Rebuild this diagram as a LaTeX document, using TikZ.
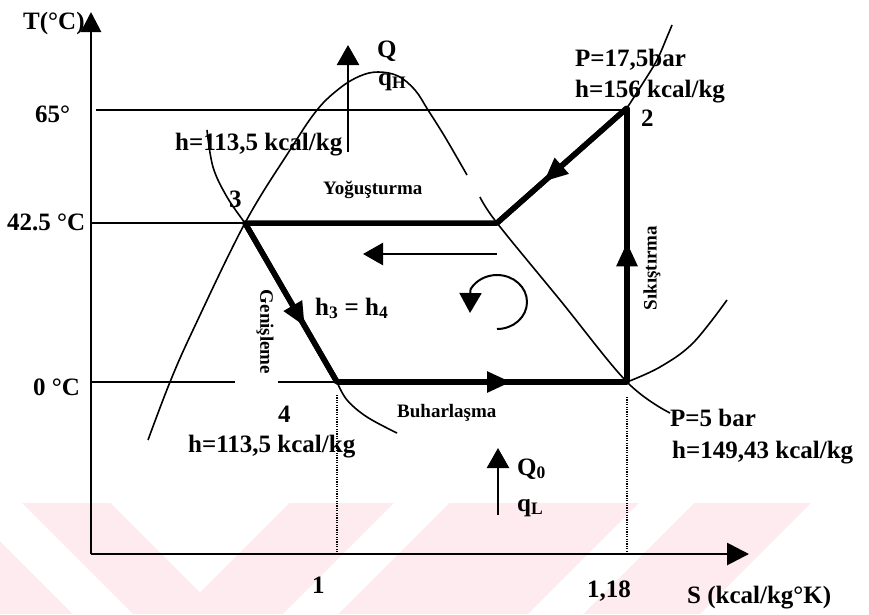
\documentclass[tikz,border=0pt]{standalone}
\usepackage{fontspec}
\setmainfont{Liberation Serif}
\usetikzlibrary{arrows.meta,decorations.markings}
\definecolor{wmpink}{RGB}{253,235,239}
\tikzset{
  thinline/.style={line width=1.6pt},
  cycleline/.style={line width=5.5pt, line join=round},
  axisline/.style={line width=2.8pt},
  arrowline/.style={line width=2.6pt},
  lbl/.style={font=\fontsize{25}{28}\selectfont\bfseries, inner sep=0pt},
  smalllbl/.style={font=\fontsize{19}{22}\selectfont\bfseries, inner sep=0pt},
  midarrow/.style={postaction={decorate},decoration={markings,mark=at position #1 with {\arrow{Triangle[length=24pt,width=20pt]}}}},
  tipQQ/.style={-{Triangle[length=20pt,width=22pt]}},
  dotline/.style={line width=1.2pt, dash pattern=on 1.2pt off 1.2pt},
}
\begin{document}
\begin{tikzpicture}[x=1pt,y=-1pt]
\useasboundingbox (0,0) rectangle (869,614);
% watermark band
\fill[wmpink] (0,503) -- (811,503) -- (700,614) -- (0,614) -- cycle;
\fill[white] (-38,503) -- (22,503) -- (133,614) -- (73,614) -- cycle;
\fill[white] (111,503) -- (289,503) -- (200,592) -- cycle;
\fill[white] (394,503) -- (449,503) -- (338,614) -- (283,614) -- cycle;
\fill[white] (639,503) -- (694,503) -- (583,614) -- (528,614) -- cycle;

% key points
\coordinate (p1) at (627,382);
\coordinate (p2) at (627,108);
\coordinate (p3) at (245,223);
\coordinate (p4) at (337,382);
\coordinate (pa) at (497,223);
\coordinate (orig) at (91,554);
\coordinate (ytip) at (91,12);
\coordinate (xtip) at (749,554);

% reference lines
\coordinate (l65) at (96,110);
\coordinate (l42) at (91,223);
\coordinate (l0a) at (92,382);
\coordinate (l0b) at (235,382);
\coordinate (l0c) at (278,382);
\draw[thinline] (l65) -- (l65 -| p2);
\draw[thinline] (l42) -- (p3);
\draw[thinline] (l0a) -- (l0b);
\draw[thinline] (l0c) -- (p4);
\coordinate (d1a) at (337,395);
\coordinate (d2a) at (627,397);
\draw[dotline] (d1a) -- (d1a |- orig);
\draw[dotline] (d2a) -- (d2a |- orig);

% saturation dome
\draw[thinline] plot[smooth, tension=0.6] coordinates {(148,440) (170,382) (193,330) (245,223) (290,150) (317,110) (340,88) (360,76) (378,72) (398,76) (415,90) (428,110) (445,137) (467,175)};
\draw[thinline] plot[smooth, tension=0.6] coordinates {(480,197) (497,223) (560,300) (627,382) (670,413)};

% other curves
\draw[thinline] plot[smooth, tension=0.6] coordinates {(207,130) (213,167) (227,197) (245,223)};
\draw[thinline] plot[smooth, tension=0.6] coordinates {(627,108) (643,83) (657,60) (667,37) (672,25)};
\draw[thinline] plot[smooth, tension=0.6] coordinates {(337,382) (347,400) (367,417) (397,433)};
\draw[thinline] plot[smooth, tension=0.6] coordinates {(627,382) (660,367) (693,343) (727,300)};

% cycle
\draw[cycleline] (p2) -- (pa) -- (p3) -- (p4) -- (p1) -- cycle;
\draw[cycleline, midarrow=0.64] (p2) -- (pa);
\draw[cycleline, midarrow=0.65] (p3) -- (p4);
\draw[cycleline, midarrow=0.6] (p4) -- (p1);
\draw[cycleline, midarrow=0.51] (p1) -- (p2);

% axes
\draw[axisline, -{Triangle[length=20pt,width=20pt]}] (orig) -- (ytip);
\draw[axisline, -{Triangle[length=22pt,width=22pt]}] (orig) -- (xtip);

% heat arrows
\coordinate (qh0) at (348,152);
\coordinate (qh1) at (348,45);
\coordinate (ql0) at (498,515);
\coordinate (ql1) at (498,448);
\draw[arrowline, tipQQ] (qh0) -- (qh1);
\draw[arrowline, tipQQ] (ql0) -- (ql1);

% direction arrows
\coordinate (la1) at (497,254);
\coordinate (la2) at (363,254);
\draw[arrowline, tipQQ] (la1) -- (la2);
\coordinate (rot0) at (497,329);
\coordinate (rottip) at (470,313);
\draw[line width=2pt, -{Triangle[length=20pt,width=22pt]}] (rot0) arc[start angle=90, end angle=-152, x radius=30, y radius=27] -- (rottip);

% labels
\node[lbl, anchor=base west] (tT) at (23,29) {T(°C)};
\node[lbl, anchor=base west] (t65) at (35,122) {65°};
\node[lbl, anchor=base west] (t425) at (7,230) {42.5 °C};
\node[lbl, anchor=base west] (t0) at (33,395) {0 °C};
\node[lbl, anchor=base west] (tP2) at (575,66) {P=17,5bar};
\node[lbl, anchor=base west] (th2) at (575,97) {h=156 kcal/kg};
\node[lbl, anchor=base west] (t2) at (641,126) {2};
\node[lbl, anchor=base west] (th3) at (175,150) {h=113,5 kcal/kg};
\node[lbl, anchor=base west] (t3) at (229,207) {3};
\node[lbl, anchor=base west] (t4) at (278,422) {4};
\node[lbl, anchor=base west] (th4) at (188,452) {h=113,5 kcal/kg};
\node[lbl, anchor=base west] (tP1) at (670,426) {P=5 bar};
\node[lbl, anchor=base west] (th1) at (672,458) {h=149,43 kcal/kg};
\node[lbl, anchor=base west] (tQ) at (377,57) {Q};
\node[lbl, anchor=base west] (tqH) at (378,85) {q\textsubscript{H}};
\node[lbl, anchor=base west] (tQ0) at (517,475) {Q\textsubscript{0}};
\node[lbl, anchor=base west] (tqL) at (517,511) {q\textsubscript{L}};
\node[lbl, anchor=base west] (th34) at (315,315) {h\textsubscript{3} = h\textsubscript{4}};
\node[lbl, anchor=base west] (tS1) at (312,593) {1};
\node[lbl, anchor=base west] (tS2) at (587,597) {1,18};
\node[lbl, anchor=base west] (tS) at (687,603) {S (kcal/kg°K)};
\node[smalllbl, anchor=base west] (tY) at (323,194) {Yoğuşturma};
\node[smalllbl, anchor=base west] (tB) at (397,417) {Buharlaşma};
\node[smalllbl, rotate=-90] (tG) at (265,332) {Genişleme};
\node[smalllbl, rotate=90] (tSk) at (652,268) {Sıkıştırma};
\end{tikzpicture}
\end{document}
